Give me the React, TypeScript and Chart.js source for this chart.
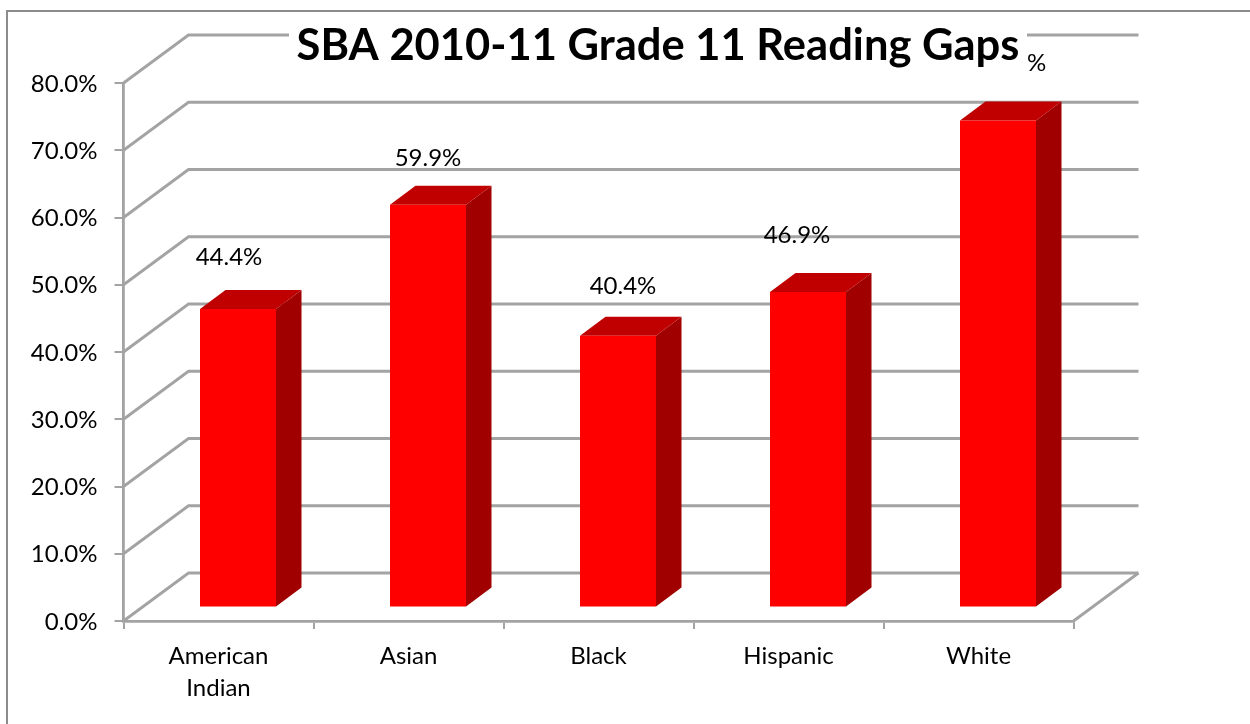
import React, { useEffect, useRef } from "react";
import { Chart, registerables } from "chart.js";

Chart.register(...registerables);

const TITLE = "SBA 2010-11 Grade 11 Reading Gaps";
const categories = [["American", "Indian"], "Asian", "Black", "Hispanic", "White"];
const gapValues = [44.4, 59.9, 40.4, 46.9, 72.4];
const yTickStep = 10;
const yMax = 80;

// manual data-label placement relative to the bar's front-face centre and top
const labelShiftX = [-9, 0, 5, -11, 15];
const labelShiftY = [-52, -46, -50, -57, -57];

const FONT = "Lato";
const WALL = "#a3a3a3";
const DEPTH_X = 65;
const DEPTH_Y = 48;
const BAR_X = 19.5;
const BAR_Y = 13.5;
const SIDE_X = 25.5;
const SIDE_Y = 19;

const walls3d = {
  id: "walls3d",
  beforeDraw(chart: any) {
    const c = chart.ctx;
    c.save();
    c.fillStyle = "#fff";
    c.fillRect(0, 0, chart.width, chart.height);
    c.strokeStyle = "#8c8c8c";
    c.lineWidth = 2;
    c.beginPath();
    c.moveTo(7, chart.height);
    c.lineTo(7, 11);
    c.lineTo(chart.width, 11);
    c.stroke();
    c.restore();
  },
  beforeDatasetsDraw(chart: any) {
    const c = chart.ctx;
    const { left, right } = chart.chartArea;
    const y = chart.scales.y;
    c.save();
    c.strokeStyle = WALL;
    c.lineWidth = 2.8;
    c.lineJoin = "miter";
    for (const t of y.ticks) {
      const py = y.getPixelForValue(t.value);
      c.beginPath();
      c.moveTo(left, py);
      c.lineTo(left + DEPTH_X, py - DEPTH_Y);
      c.lineTo(right + DEPTH_X, py - DEPTH_Y);
      c.stroke();
    }
    const y0 = y.getPixelForValue(0);
    c.beginPath();
    c.moveTo(right, y0);
    c.lineTo(right + DEPTH_X, y0 - DEPTH_Y);
    c.stroke();
    c.restore();
  },
  beforeDatasetDraw(chart: any, args: any) {
    const c = chart.ctx;
    c.save();
    c.translate(BAR_X, -BAR_Y);
    for (const el of chart.getDatasetMeta(args.index).data) {
      const l = el.x - el.width / 2;
      const r = el.x + el.width / 2;
      c.fillStyle = "#a00000";
      c.beginPath();
      c.moveTo(r, el.y);
      c.lineTo(r + SIDE_X, el.y - SIDE_Y);
      c.lineTo(r + SIDE_X, el.base - SIDE_Y);
      c.lineTo(r, el.base);
      c.closePath();
      c.fill();
      c.fillStyle = "#c00000";
      c.beginPath();
      c.moveTo(l, el.y);
      c.lineTo(l + SIDE_X, el.y - SIDE_Y);
      c.lineTo(r + SIDE_X, el.y - SIDE_Y);
      c.lineTo(r, el.y);
      c.closePath();
      c.fill();
    }
  },
  afterDatasetDraw(chart: any) {
    chart.ctx.restore();
  },
  afterDatasetsDraw(chart: any) {
    const c = chart.ctx;
    c.save();
    c.fillStyle = "#000";
    c.font = `24px ${FONT}`;
    c.textAlign = "center";
    c.textBaseline = "middle";
    chart.getDatasetMeta(0).data.forEach((el: any, i: number) => {
      c.fillText(
        gapValues[i].toFixed(1) + "%",
        el.x + BAR_X + labelShiftX[i],
        el.y - BAR_Y + labelShiftY[i]
      );
    });
    const title = chart.options.plugins.title;
    c.fillStyle = "#fff";
    c.fillRect(289, 16, 738, 57);
    c.fillStyle = "#000";
    c.font = `bold ${title.font.size}px ${FONT}`;
    c.fillText(title.text, 658, 46);
    c.restore();
  },
};

export default function App() {
  const ref = useRef<HTMLCanvasElement>(null);
  useEffect(() => {
    const chart = new Chart(ref.current!, {
      type: "bar",
      data: {
        labels: categories as any,
        datasets: [
          {
            label: "Reading gap",
            data: gapValues,
            backgroundColor: "#ff0000",
            borderWidth: 0,
            barPercentage: 1,
            categoryPercentage: 0.4,
            clip: false as any,
          },
        ],
      },
      plugins: [walls3d],
      options: {
        responsive: false,
        animation: false,
        layout: { padding: { top: 83, right: 176.5, left: 0, bottom: 0 } },
        plugins: {
          legend: { display: false },
          tooltip: { enabled: false },
          title: { display: false, text: TITLE, font: { size: 43.5, weight: "bold", family: FONT } },
        },
        scales: {
          x: {
            offset: true,
            afterFit(s: any) {
              s.height = 103;
            },
            grid: {
              offset: true,
              drawOnChartArea: false,
              color: WALL,
              lineWidth: 2,
              tickLength: 8,
            },
            border: { display: true, color: WALL, width: 2.8 },
            ticks: {
              color: "#000",
              font: { family: FONT, size: 24, lineHeight: 1.35 },
              padding: 11,
              maxRotation: 0,
              autoSkip: false,
            },
          },
          y: {
            min: 0,
            max: yMax,
            afterFit(s: any) {
              s.width = 123.5;
            },
            grid: {
              drawOnChartArea: false,
              color: WALL,
              lineWidth: 2,
              tickLength: 9,
            },
            border: { display: true, color: WALL, width: 2.8 },
            ticks: {
              stepSize: yTickStep,
              color: "#000",
              font: { family: FONT, size: 24 },
              padding: 17,
              labelOffset: 1,
              callback: (v: any) => Number(v).toFixed(1) + "%",
            },
          },
        },
      },
    });
    return () => chart.destroy();
  }, []);
  return (
    <canvas
      ref={ref}
      width={1250}
      height={724}
      style={{ position: "absolute", left: 0, top: 0, display: "block" }}
    />
  );
}
